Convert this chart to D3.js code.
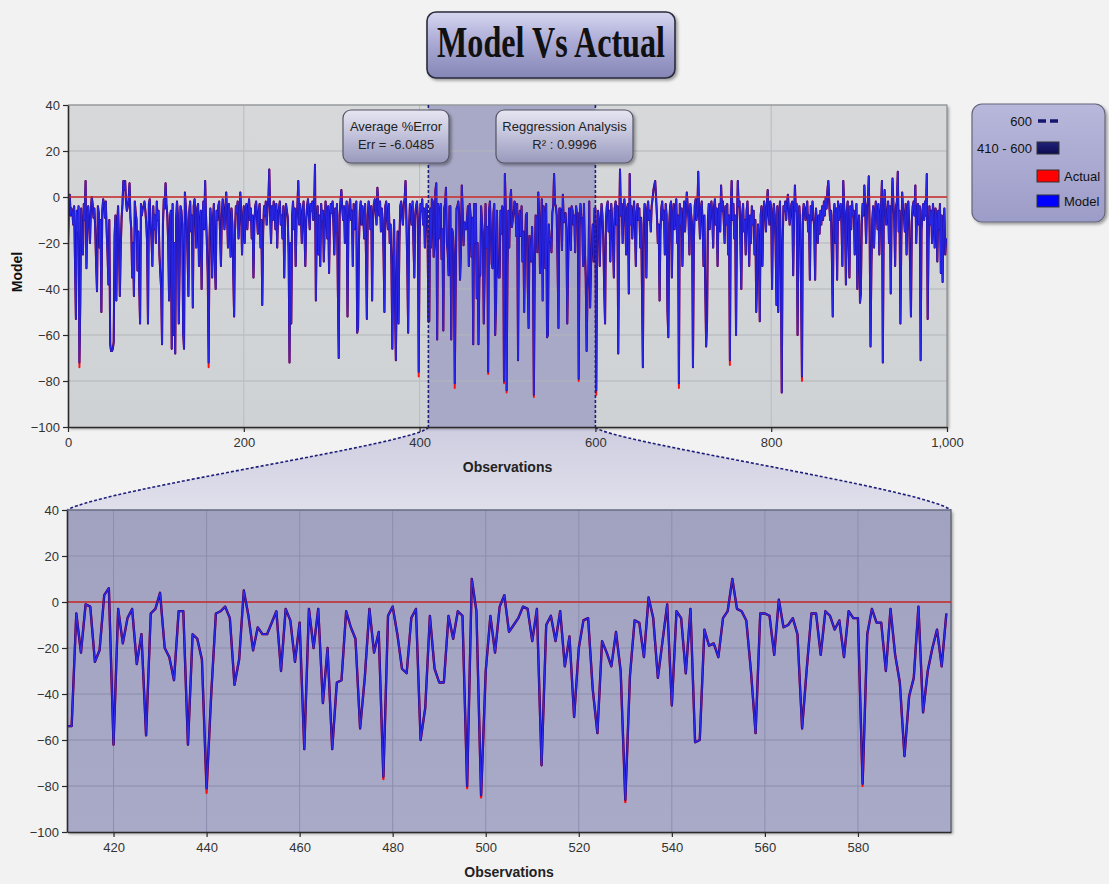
<!DOCTYPE html>
<html><head><meta charset="utf-8">
<script src="https://cdn.jsdelivr.net/npm/d3@7/dist/d3.min.js"></script>
<style>
html,body{margin:0;padding:0;background:#f2f2f2;}
svg{display:block;font-family:"Liberation Sans",Arial,sans-serif;}
</style></head><body>
<svg id="chart" width="1109" height="884"></svg>
<script>
// ---------------- DATA ----------------
// Model values, observations 0-409
const modelStart = [
-20,-2,1,-8,-5,-7,-12,-4,-29,-53,
-6,-15,-4,-72,-45,-5,-18,-25,-3,-10,
7,-31,-8,-4,-12,-20,-6,0,-3,-9,
-5,-14,-29,-41,-4,-7,-22,-10,-50,-6,
-1,-3,-9,-2,-15,-25,-38,-10,-64,-67,
-67,-66,-63,-17,-8,-45,-12,-4,-20,-43,
-22,-9,-3,7,3,7,-2,-6,-4,-1,
6,-9,-14,-35,-20,-43,-2,-7,-10,-32,
-15,-38,-55,-3,-8,-5,-4,-2,-6,-11,
-20,-55,-3,-1,-12,-18,-30,-4,-14,-8,
-20,-2,-10,-6,-25,-33,-40,-64,-12,-1,
-5,6,-3,-8,-20,-45,-9,-6,-66,-3,
-60,-20,-68,-10,-2,-8,-55,-30,-4,-6,
-12,-59,-66,2,-4,-10,-25,-43,-6,-2,
-15,-8,-48,-4,-1,-10,-22,-5,-3,-30,
-12,-6,-40,-9,-2,-14,7,-8,-20,-34,
-72,-18,-5,-12,-35,-9,-3,-28,-40,-6,
-10,-4,-2,-16,-30,-8,-1,-5,-14,-6,
2,-8,-22,-3,-10,-26,-5,-12,-33,-52,
-15,-4,-7,-2,-18,-9,2,-6,-25,-11,
-4,-20,-8,-3,-14,-6,-1,-10,-5,-18,
-8,-35,-12,-4,-2,-9,-16,-6,-3,-22,
-10,-47,-15,-4,-8,-2,-12,-5,-1,12,
-8,-20,-4,-10,-2,-6,-14,-3,-22,-7,
-5,-2,-12,-8,-18,-4,-35,-10,-3,-6,
-9,-25,-72,-20,-55,-8,-2,-14,-5,-30,
-10,-4,7,-12,-3,-8,-20,-6,-2,-15,
-30,-10,-4,-1,-8,-14,-3,-6,-2,-10,
-5,14,-45,-12,-4,-25,-8,-30,-3,-10,
-6,-28,-14,-2,-8,-18,-4,-33,-10,-3,
-7,-2,-12,-25,-5,-15,-3,-40,-70,-8,
-2,3,-5,-10,-4,-20,-8,-2,-52,-12,
-4,-1,-10,-6,-30,-3,-14,-8,-2,-59,
-57,-20,-6,-2,-12,-4,-9,-18,-3,-25,
-53,-8,-2,-5,-14,-4,-45,-10,-3,-1,
-6,-12,4,-3,-8,-2,-15,-5,-10,-25,
-50,-4,-2,-9,-14,-3,-20,-12,-30,-66,
-28,-10,-45,-71,-36,-15,-55,-20,-4,-2,
-8,-12,-3,-1,7,-10,-30,-59,-14,-3,
-6,-12,-2,-20,-35,-8,-4,-2,-10,-76,
-18,-3,-6,-1,-12,-5,-22,-8,-3,-14
];
// Model values, observations 410-599 (the zoomed window)
const modelZoom = [
-54,-54,-5,-22,-1,-2,-26,-21,3,6,
-62,-3,-18,-7,-3,-27,-14,-58,-5,-3,
4,-20,-24,-34,-4,-4,-62,-14,-16,-25,
-81,-40,-5,-4,-2,-7,-36,-25,5,-6,
-21,-11,-14,-14,-9,-4,-30,-3,-8,-26,
-9,-64,-3,-20,-3,-44,-20,-64,-35,-34,
-4,-11,-16,-55,-33,-3,-22,-13,-76,-6,
-2,-14,-29,-31,-7,-3,-60,-46,-6,-29,
-35,-35,-6,-16,-4,-6,-80,10,-4,-84,
-30,-6,-22,-2,3,-13,-10,-7,-2,-3,
-17,-3,-71,-10,-6,-17,-4,-28,-15,-50,
-20,-8,-7,-38,-57,-17,-22,-28,-13,-30,
-86,-32,-8,-9,-24,2,-7,-33,-17,-1,
-45,-4,-7,-31,-3,-61,-60,-12,-19,-18,
-24,-7,-4,10,-3,-4,-8,-30,-57,-5,
-5,-6,-23,1,-11,-10,-7,-14,-55,-29,
-5,-5,-23,-4,-6,-12,-8,-24,-4,-7,
-7,-79,-14,-3,-9,-9,-30,-3,-23,-35,
-67,-41,-33,-2,-48,-30,-20,-12,-28,-5
];
// Model values, observations 600-999
const modelEnd = [
-5,-84,-20,-6,-10,-30,-12,-3,-8,-18,
-40,-55,-10,-4,-2,-15,-6,-28,-3,-9,
-20,-35,-5,-2,-12,-4,-68,-15,12,-8,
-3,-20,-6,-1,-10,-25,-5,-3,-42,10,
-12,-4,-18,-8,-2,-14,-30,-6,-3,-10,
-5,-22,-9,-40,-74,-12,-3,-8,-35,-5,
-2,-10,-6,-15,-4,-1,3,5,7,0,
-8,-20,-12,-45,-15,-5,-2,-10,-6,-25,
-3,-8,-50,-61,-12,-4,-2,-35,-9,-3,
-14,-6,-1,-20,-8,-81,-3,-12,-5,-30,
-10,-2,-15,-6,2,-4,-10,-25,-3,-8,
-12,-74,-20,-4,-1,-10,-6,11,-8,-18,
-5,-2,-12,-30,-8,-40,-65,-55,-10,-3,
-14,-6,-2,-9,-22,-4,-1,-12,-5,-30,
-8,-3,-15,5,-6,-2,-10,-20,-4,-12,
-3,-25,-8,-71,-6,7,-10,-3,-18,-8,
-60,-12,7,-4,-2,-20,-40,-8,-3,-15,
-10,-25,-6,-2,-14,-30,-8,-20,-4,-12,
-6,-25,-10,-50,-35,-12,-20,-54,-8,-4,
-30,-10,-2,-6,-15,-4,3,-8,-12,-2,
-5,-40,-10,-3,-8,-20,-47,-4,-50,-10,
-2,-30,-85,-20,-4,-6,-2,-10,-3,1,
-5,-12,-8,-3,-2,-34,-10,5,-6,-3,
-60,-15,-4,-12,-40,-78,-8,-3,-5,-10,
-6,-2,-15,-8,-36,-4,-10,-2,-8,-14,
-36,-5,-12,-20,-8,-16,-6,-12,-4,-10,
-2,-8,0,-5,3,7,-2,-10,-6,-25,
-52,-8,-3,-20,-5,-36,-2,-10,-6,-3,
-12,-30,7,-4,-10,-38,-6,-2,-20,-35,
-4,-14,-2,-8,-6,-25,-10,-3,-40,-15,
-8,-46,-42,-12,-3,-8,5,-6,-20,-4,
-2,9,-15,-65,-30,-10,-4,-22,-8,-2,
-6,-14,-3,-25,-8,-4,7,-72,-10,3,
-5,-12,-8,-2,-20,-4,-42,-6,8,-3,
-10,-30,-4,-2,11,-15,-6,-55,-20,2,
-5,-8,-15,-3,-25,-6,-2,-12,-30,-52,
-10,-4,-2,-8,5,-20,-6,-3,-12,-4,
-71,-15,-6,-3,-10,-2,-8,10,-53,-20,
-4,-12,-6,-20,-3,-8,-22,-5,-10,-28,
-6,-14,-3,-33,-8,-37,-12,-5,-25,-18
];
// Observations where Actual differs from Model: [observation, actual]
const actualTips = [[13,-74],[160,-74],[399,-78],[440,-83],[478,-77],[496,-81],[499,-85],[530,-87],[581,-80],[601,-86],[695,-83],[753,-73],[835,-80]];
const zoomRange = [410, 600];
const fullRange = [0, 1000];
const yDomain = [-100, 40];
const yTicks = [40,20,0,-20,-40,-60,-80,-100];
const topXTicks = [0,200,400,600,800,1000];
const zoomXTicks = [420,440,460,480,500,520,540,560,580];
const titleText = "Model Vs Actual";
const notes = [["Average %Error","Err = -6.0485"],["Reggression Analysis","R\u00b2 : 0.9996"]];
const legendLabels = ["600","410 - 600","Actual","Model"];
const xLabel = "Observations", yLabel = "Model";

// ---------------- BUILD ----------------
const modelAll = modelStart.concat(modelZoom, modelEnd);
const tipMap = new Map(actualTips);
const series = modelAll.map((m,i)=>({x:i, model:m, actual: tipMap.has(i)?tipMap.get(i):m}));
const zoomSeries = series.filter(d=>d.x>=zoomRange[0] && d.x<zoomRange[1]);

const svg = d3.select('#chart');
const defs = svg.append('defs');
function vgrad(id, stops){
  const g = defs.append('linearGradient').attr('id',id).attr('x1',0).attr('y1',0).attr('x2',0).attr('y2',1);
  stops.forEach(([o,c])=>g.append('stop').attr('offset',o).attr('stop-color',c));
}
vgrad('gTitle',[[0,'#d6d6f0'],[0.45,'#ababd6'],[1,'#8686b6']]);
vgrad('gNote',[[0,'#e6e6f2'],[0.5,'#c0c0da'],[1,'#9898bc']]);
vgrad('gLegend',[[0,'#b8b8dc'],[1,'#9c9cc8']]);
vgrad('gConn',[[0,'#cdcde0'],[1,'#e0e0ec']]);
vgrad('gTopBg',[[0,'#d6d8da'],[1,'#cfd2d4']]);
vgrad('gBotBg',[[0,'#a0a2c0'],[1,'#a8aac8']]);
vgrad('gNavy',[[0,'#22227a'],[1,'#0c0c52']]);
const f = defs.append('filter').attr('id','shadow').attr('x','-10%').attr('y','-10%').attr('width','130%').attr('height','140%');
f.append('feDropShadow').attr('dx',2).attr('dy',2).attr('stdDeviation',1.6).attr('flood-color','#000').attr('flood-opacity',0.35);

// scales
const xTop = d3.scaleLinear().domain(fullRange).range([68,947]);
const yTop = d3.scaleLinear().domain(yDomain).range([427,105]);
const xBot = d3.scaleLinear().domain(zoomRange).range([67,951]);
const yBot = d3.scaleLinear().domain(yDomain).range([832,510]);

// connector between the panels
const lx0 = xTop(zoomRange[0]), rx0 = xTop(zoomRange[1]), cy0 = yTop(-100);
const lx1 = xBot(zoomRange[0]), rx1 = xBot(zoomRange[1]), cy1 = yBot(40);
const leftCurve = `M${lx0},${cy0} C${lx0-6},${cy0+16} ${lx1+40},${cy1-22} ${lx1},${cy1}`;
const rightCurve = `M${rx0},${cy0} C${rx0+8},${cy0+14} ${rx1-30},${cy1-22} ${rx1},${cy1}`;
svg.append('path')
  .attr('d',`M${lx0},${cy0} C${lx0-6},${cy0+16} ${lx1+40},${cy1-22} ${lx1},${cy1} L${rx1},${cy1} C${rx1-30},${cy1-22} ${rx0+8},${cy0+14} ${rx0},${cy0} Z`)
  .attr('fill','url(#gConn)');
[leftCurve,rightCurve].forEach(d=>svg.append('path').attr('d',d).attr('fill','none')
  .attr('stroke','#1e1e7a').attr('stroke-width',1.6).attr('stroke-dasharray','3,2'));

function panel(g, xs, ys, data, xticks, opts){
  const [x0,x1] = xs.range(), [y1,y0] = ys.range();
  g.append('rect').attr('x',x0).attr('y',y0).attr('width',x1-x0).attr('height',y1-y0)
    .attr('fill',opts.bg).attr('filter','url(#shadow)');
  if(opts.band){
    g.append('rect').attr('x',xs(opts.band[0])).attr('y',y0)
      .attr('width',xs(opts.band[1])-xs(opts.band[0])).attr('height',y1-y0).attr('fill','#a7a9c7');
  }
  // grid
  g.append('g').selectAll('line').data(yTicks.filter(v=>v!==yDomain[0])).join('line')
    .attr('x1',x0).attr('x2',x1).attr('y1',d=>ys(d)).attr('y2',d=>ys(d))
    .attr('stroke',opts.grid).attr('stroke-width',1);
  g.append('g').selectAll('line').data(xticks.filter(v=>xs(v)>x0+1 && xs(v)<x1-1)).join('line')
    .attr('x1',d=>xs(d)).attr('x2',d=>xs(d)).attr('y1',y0).attr('y2',y1)
    .attr('stroke',opts.vgrid).attr('stroke-width',1);
  // frame top/right
  g.append('path').attr('d',`M${x0},${y0}H${x1}V${y1}`).attr('fill','none').attr('stroke',opts.frame).attr('stroke-width',1.2);
  const zero = ()=>g.append('line').attr('x1',x0).attr('x2',x1).attr('y1',ys(0)).attr('y2',ys(0))
    .attr('stroke','#c8282a').attr('stroke-width',1.6);
  if(!opts.zeroOnTop) zero();
  // clip
  const cid = 'clip'+opts.id;
  defs.append('clipPath').attr('id',cid).append('rect').attr('x',x0).attr('y',y0).attr('width',x1-x0).attr('height',y1-y0);
  const lg = g.append('g').attr('clip-path',`url(#${cid})`);
  const lineA = d3.line().x(d=>xs(d.x)).y(d=>ys(d.actual));
  const lineM = d3.line().x(d=>xs(d.x)).y(d=>ys(d.model));
  lg.append('path').attr('d',lineA(data)).attr('fill','none').attr('stroke','#ff1010')
    .attr('stroke-width',opts.w).attr('stroke-linejoin','round');
  lg.append('path').attr('d',lineM(data)).attr('fill','none').attr('stroke',opts.outer)
    .attr('stroke-width',opts.w).attr('stroke-linejoin','round');
  lg.append('path').attr('d',lineM(data)).attr('fill','none').attr('stroke',opts.inner)
    .attr('stroke-width',opts.w*0.45).attr('stroke-linejoin','round');
  if(opts.zeroOnTop) zero();
  // axes
  const ya = g.append('g').attr('transform',`translate(${x0},0)`)
    .call(d3.axisLeft(ys).tickValues(yTicks).tickSize(5).tickPadding(3).tickSizeOuter(0));
  const xa = g.append('g').attr('transform',`translate(0,${y1})`)
    .call(d3.axisBottom(xs).tickValues(xticks).tickSize(5).tickPadding(6).tickSizeOuter(0).tickFormat(d3.format(',')));
  [ya,xa].forEach(a=>{
    a.select('.domain').attr('stroke','#2a2a2a').attr('stroke-width',1.6);
    a.selectAll('.tick line').attr('stroke','#2a2a2a').attr('stroke-width',1.2);
    a.selectAll('text').attr('font-size',13).attr('fill','#333').attr('font-family','"Liberation Sans",Arial,sans-serif');
  });
  g.append('text').attr('x',(x0+x1)/2).attr('y',y1+45).attr('text-anchor','middle')
    .attr('font-size',14).attr('font-weight','bold').attr('fill','#222').text(xLabel);
}

const gTop = svg.append('g');
panel(gTop, xTop, yTop, series, topXTicks, {id:'top', bg:'url(#gTopBg)', grid:'#b3b6ba', vgrid:'#b9bcc0', frame:'#8a8d90', w:2.0, outer:'#1e0fa2', inner:'#2a2aee', band:zoomRange, zeroOnTop:true});
// dashed markers at window bounds
gTop.selectAll('line.mark').data(zoomRange).join('line').attr('class','mark')
  .attr('x1',d=>xTop(d)).attr('x2',d=>xTop(d)).attr('y1',105).attr('y2',427)
  .attr('stroke','#1e1e7a').attr('stroke-width',1.6).attr('stroke-dasharray','3,2');
// y label
svg.append('text').attr('transform','translate(22,272) rotate(-90)').attr('text-anchor','middle')
  .attr('font-size',14).attr('font-weight','bold').attr('fill','#111').text(yLabel);

const gBot = svg.append('g');
panel(gBot, xBot, yBot, zoomSeries, zoomXTicks, {id:'bot', bg:'url(#gBotBg)', grid:'#8b8dab', vgrid:'#8c8eae', frame:'#555a6a', w:2.3, outer:'#1e0e96', inner:'#2f2ff0'});

// annotation notes
const noteBoxes = [{x:343,w:106},{x:496,w:137}];
notes.forEach((lines,i)=>{
  const b = noteBoxes[i];
  const g = svg.append('g');
  g.append('rect').attr('x',b.x).attr('y',110).attr('width',b.w).attr('height',53).attr('rx',8)
    .attr('fill','url(#gNote)').attr('stroke','#555566').attr('stroke-width',1.2).attr('filter','url(#shadow)');
  lines.forEach((t,j)=>g.append('text').attr('x',b.x+b.w/2).attr('y',131+j*18).attr('text-anchor','middle')
    .attr('font-size',13).attr('fill','#222').text(t));
});

// title
const gt = svg.append('g');
gt.append('rect').attr('x',427).attr('y',12).attr('width',248).attr('height',66).attr('rx',9)
  .attr('fill','url(#gTitle)').attr('stroke','#2a2a3c').attr('stroke-width',1.6).attr('filter','url(#shadow)');
gt.append('text').attr('x',551).attr('y',57).attr('text-anchor','middle')
  .attr('font-family','"Liberation Serif","Times New Roman",serif').attr('font-weight','bold')
  .attr('font-size',44).attr('fill','#111').attr('textLength',228).attr('lengthAdjust','spacingAndGlyphs')
  .text(titleText);

// legend
const gl = svg.append('g');
gl.append('rect').attr('x',972).attr('y',104).attr('width',133).attr('height',118).attr('rx',10)
  .attr('fill','url(#gLegend)').attr('stroke','#66667a').attr('stroke-width',1.2).attr('filter','url(#shadow)');
const rowsY = [121,148,176,201];
gl.append('text').attr('x',1032).attr('y',rowsY[0]+4.5).attr('text-anchor','end').attr('font-size',13).attr('fill','#111').text(legendLabels[0]);
gl.append('line').attr('x1',1038).attr('x2',1061).attr('y1',rowsY[0]).attr('y2',rowsY[0])
  .attr('stroke','#16166e').attr('stroke-width',3.5).attr('stroke-dasharray','8,4');
gl.append('text').attr('x',1032).attr('y',rowsY[1]+4.5).attr('text-anchor','end').attr('font-size',13).attr('fill','#111').text(legendLabels[1]);
gl.append('rect').attr('x',1037).attr('y',rowsY[1]-6).attr('width',22).attr('height',12).attr('fill','url(#gNavy)').attr('stroke','#333');
gl.append('rect').attr('x',1037).attr('y',rowsY[2]-6).attr('width',22).attr('height',12).attr('fill','#ff0000').attr('stroke','#333');
gl.append('text').attr('x',1064).attr('y',rowsY[2]+4.5).attr('font-size',13).attr('fill','#111').text(legendLabels[2]);
gl.append('rect').attr('x',1037).attr('y',rowsY[3]-6).attr('width',22).attr('height',12).attr('fill','#0000ff').attr('stroke','#333');
gl.append('text').attr('x',1064).attr('y',rowsY[3]+4.5).attr('font-size',13).attr('fill','#111').text(legendLabels[3]);
</script>
</body></html>
